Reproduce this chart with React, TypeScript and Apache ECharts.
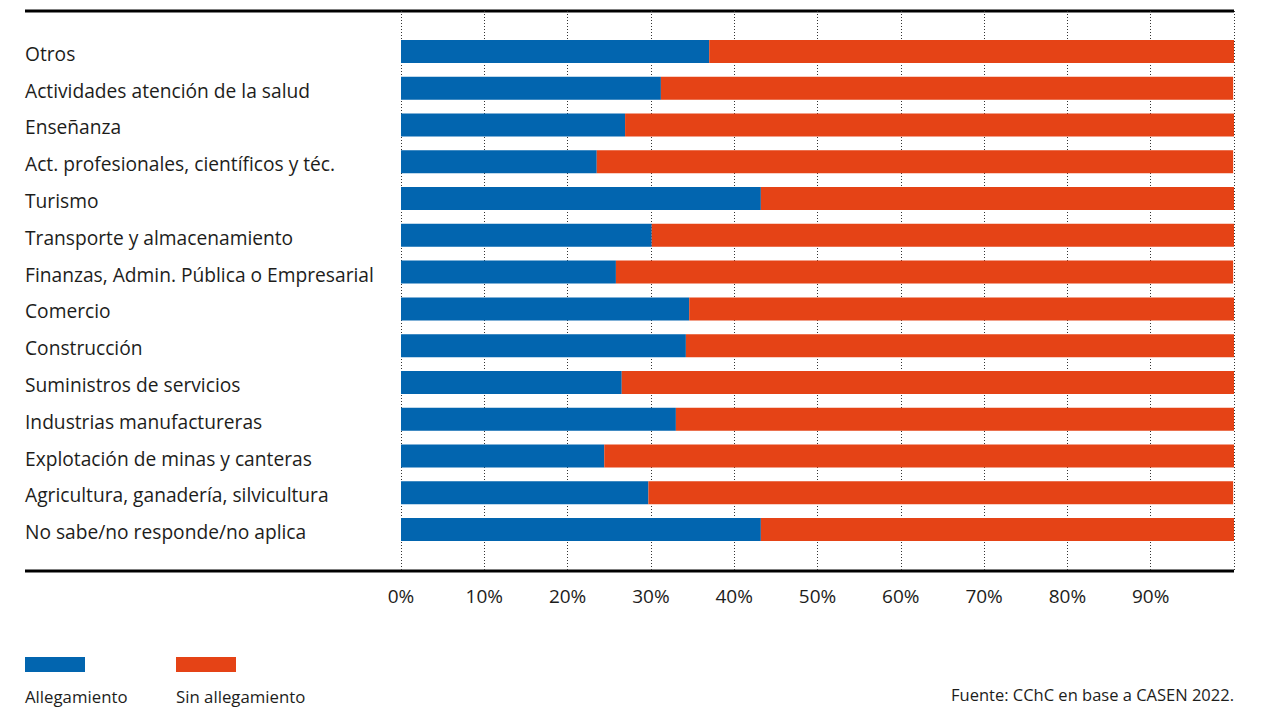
import React, { useEffect, useRef } from "react";
import * as echarts from "echarts";

const categories = [
  "Otros",
  "Actividades atención de la salud",
  "Enseñanza",
  "Act. profesionales, científicos y téc.",
  "Turismo",
  "Transporte y almacenamiento",
  "Finanzas, Admin. Pública o Empresarial",
  "Comercio",
  "Construcción",
  "Suministros de servicios",
  "Industrias manufactureras",
  "Explotación de minas y canteras",
  "Agricultura, ganadería, silvicultura",
  "No sabe/no responde/no aplica",
];

const allegamiento = [37.0, 31.2, 26.9, 23.5, 43.2, 30.1, 25.8, 34.6, 34.2, 26.5, 33.0, 24.4, 29.7, 43.2];
const sinAllegamiento = [63.0, 68.7, 73.1, 76.4, 56.8, 69.9, 74.1, 65.4, 65.8, 73.5, 67.0, 75.6, 70.2, 56.8];

const tickValues = [0, 10, 20, 30, 40, 50, 60, 70, 80, 90];
const seriesNames = ["Allegamiento", "Sin allegamiento"];
const source = "Fuente: CChC en base a CASEN 2022.";

const BLUE = "#0265af";
const ORANGE = "#e54316";
const TEXT = "#1d1d1b";
const FONT = "'Open Sans', sans-serif";

export default function App() {
  const ref = useRef<HTMLDivElement>(null);

  useEffect(() => {
    if (!ref.current) return;
    const chart = echarts.init(ref.current, null, { renderer: "svg" });
    const option: any = {
      animation: false,
      textStyle: { fontFamily: FONT, color: TEXT },
      grid: [
        { left: 401, right: 27, top: 33, height: 515 },
        { left: 401, right: 27, top: 11, height: 559 },
      ],
      xAxis: [
        {
          gridIndex: 0,
          type: "value",
          min: 0,
          max: 100,
          show: false,
        },
        {
          gridIndex: 1,
          type: "value",
          min: 0,
          max: 100,
          interval: 10,
          axisLine: { show: false },
          axisTick: { show: false },
          splitLine: {
            show: true,
            lineStyle: { color: "#333", width: 1, type: [1, 2] },
          },
          axisLabel: {
            margin: 16,
            fontSize: 19,
            fontFamily: FONT,
            color: TEXT,
            formatter: (v: number) => (tickValues.includes(v) ? v + "%" : ""),
          },
        },
      ],
      yAxis: [
        {
          gridIndex: 0,
          type: "category",
          inverse: true,
          data: categories,
          axisLine: { show: false },
          axisTick: { show: false },
          axisLabel: {
            align: "left",
            margin: 376,
            fontSize: 19.2,
            fontFamily: FONT,
            color: TEXT,
            formatter: (v: string) => "{a|" + v + "}",
            rich: {
              a: {
                fontSize: 19.2,
                fontFamily: FONT,
                color: TEXT,
                padding: [4, 0, 0, 0],
              },
            },
          },
        },
        {
          gridIndex: 1,
          type: "value",
          min: 0,
          max: 1,
          show: false,
        },
      ],
      series: [
        {
          name: seriesNames[0],
          type: "bar",
          stack: "total",
          xAxisIndex: 0,
          yAxisIndex: 0,
          barWidth: 23,
          itemStyle: { color: BLUE },
          data: allegamiento,
        },
        {
          name: seriesNames[1],
          type: "bar",
          stack: "total",
          xAxisIndex: 0,
          yAxisIndex: 0,
          barWidth: 23,
          itemStyle: { color: ORANGE },
          data: sinAllegamiento,
        },
      ],
      graphic: [
        {
          type: "line",
          shape: { x1: 25, y1: 11, x2: 1234, y2: 11 },
          style: { stroke: "#000", lineWidth: 3 },
        },
        {
          type: "line",
          shape: { x1: 25, y1: 571, x2: 1234, y2: 571 },
          style: { stroke: "#000", lineWidth: 3 },
        },
        {
          type: "rect",
          shape: { x: 25, y: 657, width: 60, height: 15 },
          style: { fill: BLUE },
        },
        {
          type: "rect",
          shape: { x: 176, y: 657, width: 60, height: 15 },
          style: { fill: ORANGE },
        },
        {
          type: "text",
          x: 25,
          y: 696,
          style: {
            text: seriesNames[0],
            font: `16.8px ${FONT}`,
            fill: TEXT,
            verticalAlign: "middle",
          },
        },
        {
          type: "text",
          x: 176,
          y: 696,
          style: {
            text: seriesNames[1],
            font: `16.8px ${FONT}`,
            fill: TEXT,
            verticalAlign: "middle",
          },
        },
        {
          type: "text",
          x: 1234,
          y: 694,
          style: {
            text: source,
            font: `16.5px ${FONT}`,
            fill: TEXT,
            align: "right",
            verticalAlign: "middle",
          },
        },
      ],
    };
    chart.setOption(option);
    return () => chart.dispose();
  }, []);

  return (
    <div
      ref={ref}
      style={{ position: "absolute", left: 0, top: 0, width: 1261, height: 708 }}
    />
  );
}
